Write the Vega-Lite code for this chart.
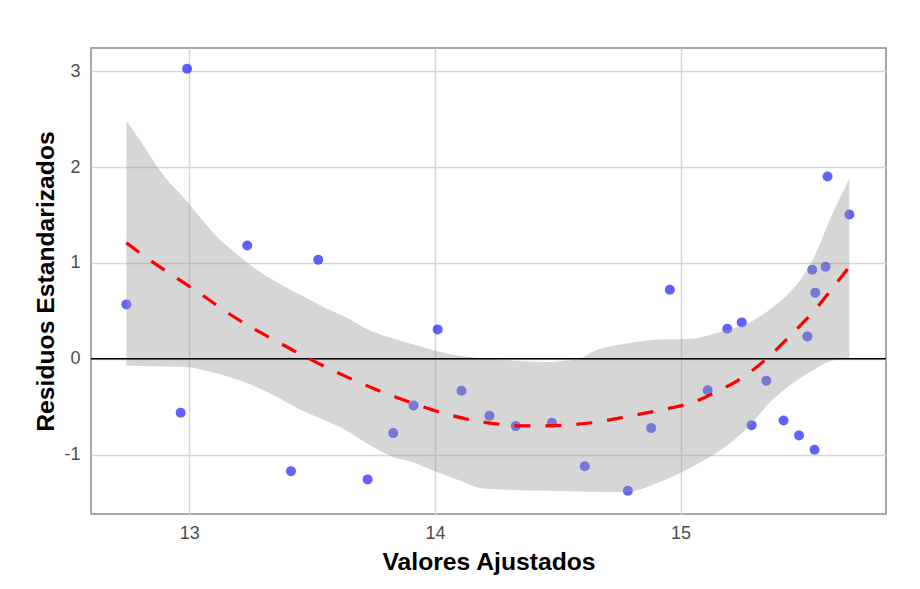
{
  "$schema": "https://vega.github.io/schema/vega-lite/v6.json",
  "width": 795,
  "height": 466,
  "autosize": {"type": "none"},
  "padding": {"left": 91, "top": 48, "right": 34, "bottom": 75},
  "background": "white",
  "config": {
    "view": {"stroke": "#8c8c8c", "strokeWidth": 1.5},
    "axis": {
      "labelFont": "Liberation Sans",
      "titleFont": "Liberation Sans",
      "labelFontSize": 18,
      "labelColor": "#4d4d4d",
      "titleFontSize": 24.7,
      "titleFontWeight": "bold",
      "titleColor": "#000000",
      "gridColor": "#d6d6d6",
      "gridWidth": 1.5,
      "domain": false,
      "ticks": false
    }
  },
  "datasets": {
    "pts": [
      {"x": 12.744, "y": 0.567}, {"x": 12.991, "y": 3.026}, {"x": 12.965, "y": -0.563},
      {"x": 13.236, "y": 1.182}, {"x": 13.414, "y": -1.173}, {"x": 13.525, "y": 1.033},
      {"x": 13.726, "y": -1.259}, {"x": 13.830, "y": -0.776}, {"x": 13.913, "y": -0.487},
      {"x": 14.011, "y": 0.306}, {"x": 14.108, "y": -0.334}, {"x": 14.222, "y": -0.595},
      {"x": 14.329, "y": -0.703}, {"x": 14.476, "y": -0.668}, {"x": 14.610, "y": -1.121},
      {"x": 14.785, "y": -1.377}, {"x": 14.880, "y": -0.724}, {"x": 14.956, "y": 0.720},
      {"x": 15.110, "y": -0.328}, {"x": 15.190, "y": 0.313}, {"x": 15.249, "y": 0.379},
      {"x": 15.289, "y": -0.693}, {"x": 15.349, "y": -0.230}, {"x": 15.419, "y": -0.644},
      {"x": 15.482, "y": -0.800}, {"x": 15.516, "y": 0.233}, {"x": 15.536, "y": 0.929},
      {"x": 15.548, "y": 0.689}, {"x": 15.545, "y": -0.949}, {"x": 15.590, "y": 0.960},
      {"x": 15.598, "y": 1.902}, {"x": 15.687, "y": 1.505}
    ],
    "band": [
      {"x": 12.744, "y": -0.070, "y2": 2.486}, {"x": 12.80, "y": -0.075, "y2": 2.278},
      {"x": 12.89, "y": -0.080, "y2": 1.930}, {"x": 13.00, "y": -0.090, "y2": 1.615},
      {"x": 13.05, "y": -0.115, "y2": 1.455}, {"x": 13.12, "y": -0.160, "y2": 1.255},
      {"x": 13.18, "y": -0.205, "y2": 1.120}, {"x": 13.26, "y": -0.280, "y2": 0.956},
      {"x": 13.38, "y": -0.430, "y2": 0.765}, {"x": 13.45, "y": -0.530, "y2": 0.670},
      {"x": 13.55, "y": -0.640, "y2": 0.535}, {"x": 13.64, "y": -0.750, "y2": 0.430},
      {"x": 13.72, "y": -0.880, "y2": 0.313}, {"x": 13.83, "y": -1.025, "y2": 0.210},
      {"x": 13.91, "y": -1.080, "y2": 0.150}, {"x": 14.00, "y": -1.175, "y2": 0.085},
      {"x": 14.10, "y": -1.270, "y2": 0.030}, {"x": 14.20, "y": -1.355, "y2": 0.005},
      {"x": 14.32, "y": -1.370, "y2": -0.020}, {"x": 14.45, "y": -1.378, "y2": -0.033},
      {"x": 14.59, "y": -1.385, "y2": 0.000}, {"x": 14.64, "y": -1.388, "y2": 0.069},
      {"x": 14.78, "y": -1.390, "y2": 0.159}, {"x": 14.915, "y": -1.287, "y2": 0.201},
      {"x": 15.05, "y": -1.124, "y2": 0.209}, {"x": 15.16, "y": -0.957, "y2": 0.278},
      {"x": 15.27, "y": -0.727, "y2": 0.365}, {"x": 15.376, "y": -0.424, "y2": 0.539},
      {"x": 15.485, "y": -0.205, "y2": 0.817}, {"x": 15.537, "y": -0.122, "y2": 1.026},
      {"x": 15.606, "y": -0.028, "y2": 1.443}, {"x": 15.687, "y": 0.014, "y2": 1.880}
    ],
    "fit": [
      {"x": 12.744, "y": 1.21}, {"x": 12.85, "y": 1.01}, {"x": 12.95, "y": 0.84},
      {"x": 13.05, "y": 0.67}, {"x": 13.15, "y": 0.49}, {"x": 13.25, "y": 0.33},
      {"x": 13.35, "y": 0.19}, {"x": 13.45, "y": 0.05}, {"x": 13.55, "y": -0.08},
      {"x": 13.65, "y": -0.20}, {"x": 13.75, "y": -0.31}, {"x": 13.85, "y": -0.41},
      {"x": 13.95, "y": -0.50}, {"x": 14.05, "y": -0.58}, {"x": 14.15, "y": -0.64},
      {"x": 14.25, "y": -0.68}, {"x": 14.35, "y": -0.70}, {"x": 14.45, "y": -0.70},
      {"x": 14.55, "y": -0.69}, {"x": 14.65, "y": -0.665}, {"x": 14.75, "y": -0.62},
      {"x": 14.85, "y": -0.57}, {"x": 14.95, "y": -0.52}, {"x": 15.05, "y": -0.455},
      {"x": 15.15, "y": -0.34}, {"x": 15.25, "y": -0.20}, {"x": 15.35, "y": 0.00},
      {"x": 15.45, "y": 0.25}, {"x": 15.55, "y": 0.52}, {"x": 15.65, "y": 0.84},
      {"x": 15.687, "y": 0.96}
    ]
  },
  "encoding": {
    "x": {
      "field": "x",
      "type": "quantitative",
      "title": "Valores Ajustados",
      "scale": {"domain": [12.6, 15.836], "nice": false, "zero": false},
      "axis": {"values": [13, 14, 15], "labelPadding": 10, "titlePadding": 7}
    },
    "y": {
      "field": "y",
      "type": "quantitative",
      "title": "Residuos Estandarizados",
      "scale": {"domain": [-1.62, 3.242], "nice": false, "zero": false},
      "axis": {"values": [-1, 0, 1, 2, 3], "labelPadding": 11, "titlePadding": 5, "labelExpr": "datum.value + ''"}
    }
  },
  "layer": [
    {
      "data": {"name": "pts"},
      "mark": {"type": "circle", "size": 100, "color": "#0000ff", "opacity": 0.62}
    },
    {
      "data": {"name": "band"},
      "mark": {"type": "area", "color": "#999999", "opacity": 0.4, "interpolate": "monotone"},
      "encoding": {"y2": {"field": "y2"}}
    },
    {
      "data": {"values": [{"h": 0}]},
      "mark": {"type": "rule", "color": "#000000", "strokeWidth": 1.6},
      "encoding": {"y": {"field": "h", "type": "quantitative"}, "x": null}
    },
    {
      "data": {"name": "fit"},
      "mark": {"type": "line", "color": "#ff0000", "strokeWidth": 3.2, "strokeDash": [16, 15], "interpolate": "monotone"}
    }
  ]
}
